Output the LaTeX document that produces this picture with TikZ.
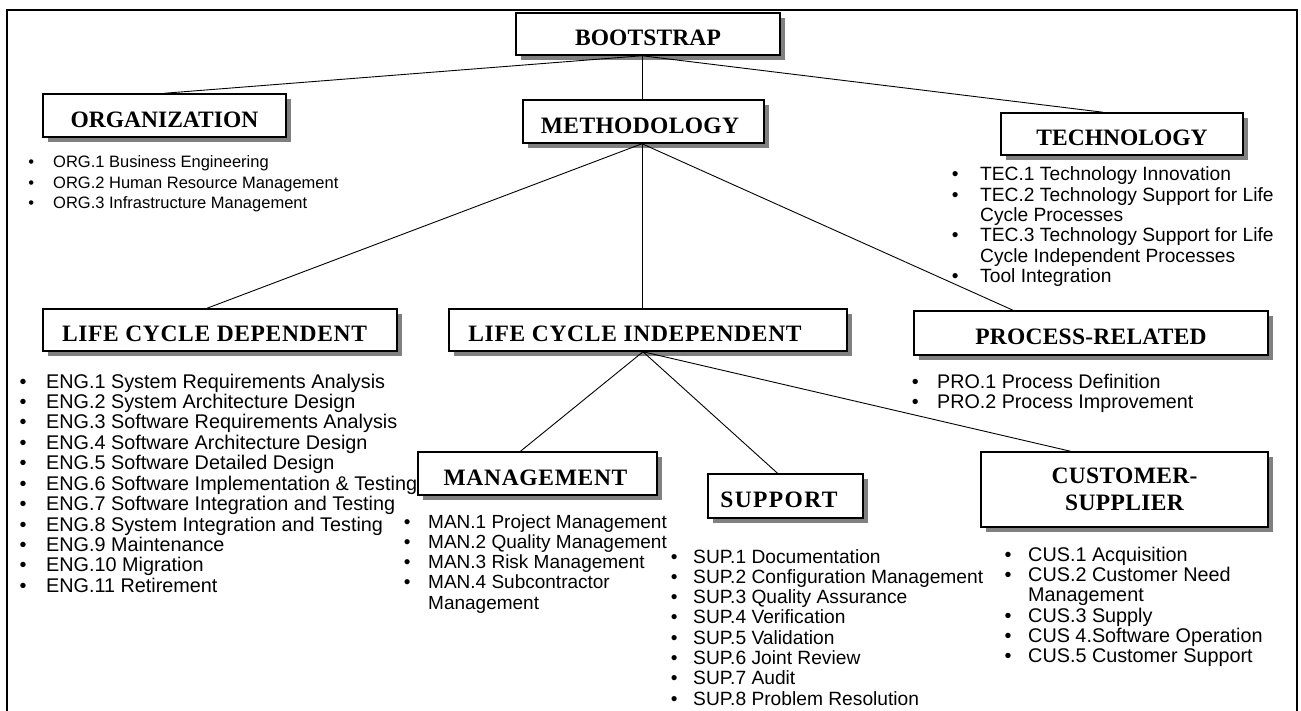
\documentclass[tikz,border=0pt]{standalone}
\usepackage{fontspec}
\setmainfont{Liberation Sans}
\newfontfamily\hfont{Liberation Serif}
\usetikzlibrary{shadows}

% bulleted lists: bullet centred on the node origin, text after a gap
\newlength\bgap
\newcommand\bi[1]{\makebox[0pt]{•}\hspace{\bgap}#1}
\newcommand\ci[1]{\hspace{\bgap}#1}
\newcommand\blist[2]{\setlength\bgap{#1}\begin{tabular}[t]{@{}l@{}}#2\end{tabular}}

\tikzset{
  hbase/.style={draw, line width=1.5pt, fill=white, inner sep=0pt,
    drop shadow={shadow xshift=5pt, shadow yshift=-5pt, fill=black!50, opacity=1}},
  hbox/.style={hbase, text depth=0pt, text height=23.5pt},
  % heading font: letter spacing in percent of the font size
  hf/.style={font=\hfont\bfseries\fontsize{23.5}{27}\selectfont\addfontfeatures{LetterSpace=#1}},
  lst/.style={anchor=base west, inner sep=0pt, font=\fontsize{#1}{20.3}\selectfont},
  link/.style={line width=0.9pt},
  frame/.style={line width=1.8pt}
}

\begin{document}
\begin{tikzpicture}[x=1pt,y=-1pt]
\useasboundingbox (0,0) rectangle (1301,711);

% outer frame, open at the bottom
\draw[frame] (7,711) -- (7,10) -- (1297,10) -- (1297,711);

% headings
\node[hbox, hf=0.5, minimum width=264pt, minimum height=42pt] (boot) at (648,34) {BOOTSTRAP};
\node[hbox, hf=1.5, minimum width=241pt, minimum height=43pt] (meth) at (643.5,121.5) {METHODOLOGY\hspace*{7pt}};
\node[hbox, hf=0, minimum width=243pt, minimum height=43pt] (org) at (164.5,115.5) {ORGANIZATION};
\node[hbox, hf=0, minimum width=242pt, minimum height=42pt] (tech) at (1122,134) {TECHNOLOGY};
\node[hbox, hf=2.8, minimum width=354pt, minimum height=42pt] (lcd) at (220,330) {LIFE CYCLE DEPENDENT\hspace*{11pt}};
\node[hbox, hf=3, minimum width=398pt, minimum height=42pt] (lci) at (648,330) {LIFE CYCLE INDEPENDENT\hspace*{26pt}};
\node[hbox, hf=1, minimum width=354pt, minimum height=44pt] (pro) at (1091,333) {PROCESS-RELATED};
\node[hbox, hf=3, minimum width=239pt, minimum height=43pt] (man) at (537.5,473.5) {MANAGEMENT\hspace*{4pt}};
\node[hbox, hf=6, minimum width=155pt, minimum height=44pt] (sup) at (785.5,496) {SUPPORT\hspace*{13pt}};
\node[hbase, hf=1.5, minimum width=287pt, minimum height=75pt, align=center] (cus) at (1124.5,489.5) {CUSTOMER-\\SUPPLIER};

% connectors
\draw[link] ([xshift=-6pt]boot.south) -- (org.north);
\draw[link] ([xshift=-6pt]boot.south) -- ([xshift=-1.5pt]meth.north);
\draw[link] ([xshift=-6pt]boot.south) -- ([xshift=-19pt]tech.north);
\draw[link] ([xshift=-1.5pt]meth.south) -- ([xshift=-13pt]lcd.north);
\draw[link] ([xshift=-1.5pt]meth.south) -- ([xshift=-6pt]lci.north);
\draw[link] ([xshift=-1.5pt]meth.south) -- ([xshift=-78pt]pro.north);
\draw[link] ([xshift=-5pt]lci.south) -- ([xshift=-17pt]man.north);
\draw[link] ([xshift=-5pt]lci.south) -- ([xshift=-8pt]sup.north);
\draw[link] ([xshift=-5pt]lci.south) -- ([xshift=-54pt]cus.north);

% process lists
\node[lst=16.5] (orgl) at (31,168) {\blist{22pt}{%
  \bi{ORG.1 Business Engineering}\\
  \bi{ORG.2 Human Resource Management}\\
  \bi{ORG.3 Infrastructure Management}}};
\node[lst=19.2] (techl) at (955,181) {\blist{25pt}{%
  \bi{TEC.1 Technology Innovation}\\
  \bi{TEC.2 Technology Support for Life}\\
  \ci{Cycle Processes}\\
  \bi{TEC.3 Technology Support for Life}\\
  \ci{Cycle Independent Processes}\\
  \bi{Tool Integration}}};
\node[lst=19.8] (lcdl) at (23,388) {\blist{23pt}{%
  \bi{ENG.1 System Requirements Analysis}\\
  \bi{ENG.2 System Architecture Design}\\
  \bi{ENG.3 Software Requirements Analysis}\\
  \bi{ENG.4 Software Architecture Design}\\
  \bi{ENG.5 Software Detailed Design}\\
  \bi{ENG.6 Software Implementation \& Testing}\\
  \bi{ENG.7 Software Integration and Testing}\\
  \bi{ENG.8 System Integration and Testing}\\
  \bi{ENG.9 Maintenance}\\
  \bi{ENG.10 Migration}\\
  \bi{ENG.11 Retirement}}};
\node[lst=19.7] (prol) at (915,388) {\blist{22pt}{%
  \bi{PRO.1 Process Definition}\\
  \bi{PRO.2 Process Improvement}}};
\node[lst=19] (manl) at (407,528) {\blist{21pt}{%
  \bi{MAN.1 Project Management}\\
  \bi{MAN.2 Quality Management}\\
  \bi{MAN.3 Risk Management}\\
  \bi{MAN.4 Subcontractor}\\
  \ci{Management}}};
\node[lst=19.2] (supl) at (674,563) {\blist{19pt}{%
  \bi{SUP.1 Documentation}\\
  \bi{SUP.2 Configuration Management}\\
  \bi{SUP.3 Quality Assurance}\\
  \bi{SUP.4 Verification}\\
  \bi{SUP.5 Validation}\\
  \bi{SUP.6 Joint Review}\\
  \bi{SUP.7 Audit}\\
  \bi{SUP.8 Problem Resolution}}};
\node[lst=19.8] (cusl) at (1008,561) {\blist{20pt}{%
  \bi{CUS.1 Acquisition}\\
  \bi{CUS.2 Customer Need}\\
  \ci{Management}\\
  \bi{CUS.3 Supply}\\
  \bi{CUS 4.Software Operation}\\
  \bi{CUS.5 Customer Support}}};
\end{tikzpicture}
\end{document}
